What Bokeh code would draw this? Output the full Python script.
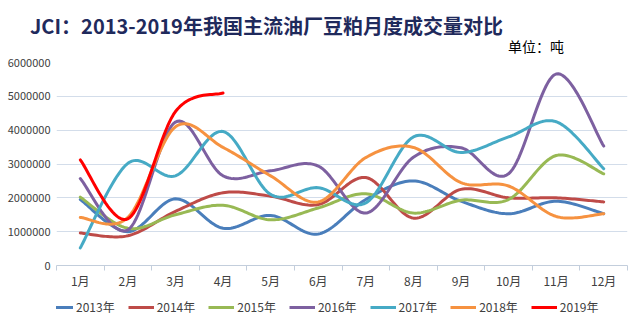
import numpy as np
from bokeh.plotting import figure
from bokeh.layouts import column
from bokeh.models import Div, FixedTicker, Legend, LegendItem, NumeralTickFormatter, Range1d
from bokeh.embed import file_html
from bokeh.resources import INLINE

months = ["1月", "2月", "3月", "4月", "5月", "6月", "7月", "8月", "9月", "10月", "11月", "12月"]
years = ["2013年", "2014年", "2015年", "2016年", "2017年", "2018年", "2019年"]

v2013 = [1950000, 1000000, 1970000, 1100000, 1480000, 930000, 1950000, 2500000, 1900000, 1530000, 1900000, 1530000]
v2014 = [960000, 880000, 1600000, 2150000, 2050000, 1800000, 2600000, 1400000, 2250000, 2000000, 2000000, 1880000]
v2015 = [2020000, 1100000, 1500000, 1780000, 1350000, 1700000, 2120000, 1550000, 1930000, 1950000, 3250000, 2710000]
v2016 = [2570000, 1050000, 4240000, 2650000, 2800000, 2940000, 1550000, 3200000, 3480000, 2710000, 5660000, 3530000]
v2017 = [520000, 3020000, 2650000, 3960000, 2100000, 2300000, 1850000, 3800000, 3340000, 3800000, 4250000, 2860000]
v2018 = [1420000, 1420000, 4100000, 3490000, 2650000, 1880000, 3190000, 3490000, 2450000, 2350000, 1450000, 1530000]
v2019 = [3120000, 1380000, 4550000, 5100000]

series = [v2013, v2014, v2015, v2016, v2017, v2018, v2019]
colors = ["#4A7EBB", "#BE4B48", "#98B954", "#7D60A0", "#46AAC5", "#F69240", "#FF0000"]

TITLE = "JCI：2013-2019年我国主流油厂豆粕月度成交量对比"
UNIT = "单位：吨"
FONT = "Noto Sans CJK SC"


def smooth(vals, n=24):
    x = np.arange(1, len(vals) + 1, dtype=float)
    y = np.asarray(vals, dtype=float)
    P = np.column_stack([x, y])
    m = len(P)
    xs, ys = [], []
    for i in range(m - 1):
        p0 = P[i - 1] if i > 0 else P[i]
        p1 = P[i]
        p2 = P[i + 1]
        p3 = P[i + 2] if i + 2 < m else P[i + 1]
        c1 = p1 + (p2 - p0) / 6.0
        c2 = p2 - (p3 - p1) / 6.0
        t = np.linspace(0, 1, n, endpoint=(i == m - 2))
        b = ((1 - t) ** 3)[:, None] * p1 + (3 * (1 - t) ** 2 * t)[:, None] * c1 \
            + (3 * (1 - t) * t ** 2)[:, None] * c2 + (t ** 3)[:, None] * p2
        xs.extend(b[:, 0]); ys.extend(b[:, 1])
    return xs, ys


# ---- header (title + unit) ----
head_html = (
    '<div style="position:relative;width:634px;height:54px;">'
    '<span style="position:absolute;left:30px;top:14px;line-height:24px;white-space:nowrap;'
    'font-family:\'Noto Sans CJK SC\';font-size:20px;font-weight:bold;color:#1F2A5C;">'
    + TITLE + '</span>'
    '<span style="position:absolute;left:508px;top:39px;line-height:15px;white-space:nowrap;'
    'font-family:\'Noto Sans CJK SC\';font-size:14px;color:#000000;">'
    + UNIT + '</span></div>'
)
head = Div(text=head_html, width=634, height=54, margin=0)

# ---- main plot ----
p = figure(width=634, height=241, output_backend="svg", toolbar_location=None,
           x_range=Range1d(0.5, 12.5), y_range=Range1d(0, 6000000),
           min_border_left=56, min_border_right=7, min_border_top=8, min_border_bottom=30)
p.outline_line_color = None

for name, vals, c in zip(years, series, colors):
    xs, ys = smooth(vals)
    p.line(xs, ys, line_color=c, line_width=3, line_cap="round", line_join="round")

p.xaxis.ticker = FixedTicker(ticks=list(range(1, 13)), minor_ticks=[i + 0.5 for i in range(0, 13)])
p.xaxis.major_label_overrides = {i + 1: m for i, m in enumerate(months)}
p.xaxis.major_tick_line_color = None
p.xaxis.major_tick_out = 0
p.xaxis.major_tick_in = 0
p.xaxis.minor_tick_out = 5
p.xaxis.minor_tick_in = 0
p.xaxis.minor_tick_line_color = "#C3CEDC"
p.xaxis.axis_line_color = "#C3CEDC"
p.xaxis.major_label_standoff = 1
p.xaxis.major_label_text_font = FONT
p.xaxis.major_label_text_font_size = "12px"
p.xaxis.major_label_text_color = "#404040"
p.xgrid.grid_line_color = None

p.yaxis.ticker = FixedTicker(ticks=[0, 1000000, 2000000, 3000000, 4000000, 5000000, 6000000])
p.yaxis.formatter = NumeralTickFormatter(format="0")
p.yaxis.axis_line_color = None
p.yaxis.major_tick_line_color = None
p.yaxis.minor_tick_line_color = None
p.yaxis.major_tick_out = 0
p.yaxis.major_label_standoff = 6
p.yaxis.major_label_text_font = FONT
p.yaxis.major_label_text_font_size = "11px"
p.yaxis.major_label_text_color = "#404040"
p.ygrid.grid_line_color = "#D3DDEA"

# ---- legend strip ----
leg = figure(width=634, height=24, output_backend="svg", toolbar_location=None,
             x_range=Range1d(0, 1), y_range=Range1d(0, 1),
             min_border_left=56, min_border_right=7, min_border_top=0, min_border_bottom=0)
leg.axis.visible = False
leg.grid.grid_line_color = None
leg.outline_line_color = None
items = []
for name, c in zip(years, colors):
    r = leg.line(x=[5, 6], y=[5, 6], line_color=c, line_width=3)
    items.append(LegendItem(label=name, renderers=[r]))
legend = Legend(items=items, orientation="horizontal", location=(-9, 4),
                glyph_width=26, glyph_height=16, label_standoff=3, spacing=13,
                padding=0, margin=0, border_line_color=None, background_fill_alpha=0,
                label_text_font=FONT, label_text_font_size="12px",
                label_text_color="#404040")
leg.add_layout(legend, "center")

layout = column(head, p, leg, spacing=0)
open("out.html", "w").write(file_html(layout, INLINE))
